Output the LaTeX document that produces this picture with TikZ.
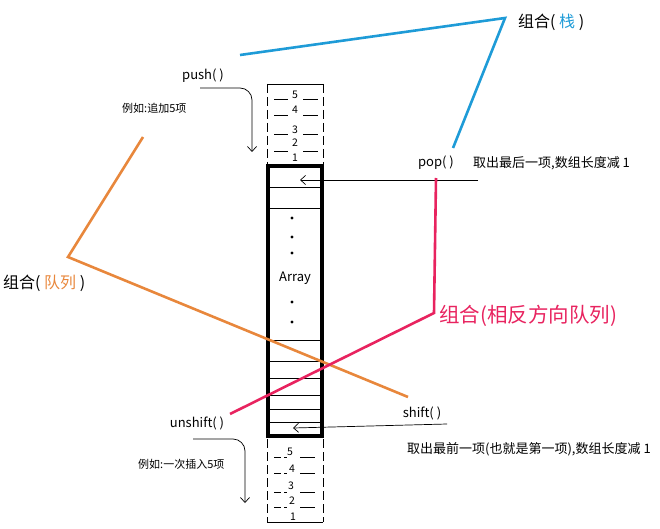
\documentclass[tikz,border=0pt]{standalone}
\usepackage{fontspec}
\setmainfont{Noto Sans CJK SC}
\usetikzlibrary{arrows.meta}
\definecolor{stackblue}{RGB}{30,155,215}
\definecolor{queueorange}{RGB}{232,135,60}
\definecolor{revpink}{RGB}{232,35,95}
\begin{document}
\begin{tikzpicture}[x=1pt,y=-1pt,
  lbl/.style={inner sep=0pt, font=\fontsize{13}{15}\selectfont},
  smalllbl/.style={inner sep=0pt, font=\fontsize{11}{13}\selectfont},
  numlbl/.style={inner sep=0pt, font=\fontsize{10.5}{12}\selectfont},
  combolbl/.style={inner sep=0pt, anchor=west, font=\fontsize{16}{18}\selectfont},
  thinline/.style={line width=0.7pt},
  arrline/.style={line width=0.7pt, -{Straight Barb[length=5pt,width=9pt]}},
  dashline/.style={line width=0.7pt, dash pattern=on 7pt off 3pt},
  sideline/.style={line width=0.7pt, dash pattern=on 9pt off 4pt},
  colline/.style={line width=2.6pt}
]
\useasboundingbox (0,0) rectangle (660,529);

% ---- pop / shift arrows (behind the array border)
\coordinate (popend) at (478,180);
\coordinate (poptip) at (300,180);
\draw[arrline] (popend) -- (poptip);
\coordinate (shiftend) at (447,424);
\coordinate (shifttip) at (293,428);
\draw[arrline] (shiftend) -- (shifttip);

% ---- array
\node[draw, line width=4.5pt, minimum width=54pt, minimum height=270pt, inner sep=0pt] (array) at (295,301) {};
\foreach \yy in {187,208,340,361,378,395,409,422}
  \draw[thinline] (268,\yy) -- (322,\yy);
\node[lbl] (arraytxt) at (295,278) {Array};
\foreach \yy in {218,237,253,302,322}
  \fill (292,\yy) circle (1.6pt);

% ---- top dashed box (push)
\draw[thinline] (267,84) -- (323,84);
\draw[sideline] (267,84) -- (267,164);
\draw[sideline] (323,84) -- (323,164);
\node[numlbl] (t5) at (295,95) {5};
\node[numlbl] (t4) at (295,110) {4};
\node[numlbl] (t3) at (295,130) {3};
\node[numlbl] (t2) at (295,143) {2};
\node[numlbl] (t1) at (295,158) {1};
\foreach \yy in {99,115,134,151}{
  \draw[thinline] (274,\yy) -- (288,\yy);
  \draw[thinline] (303,\yy) -- (318,\yy);
}

% ---- bottom dashed box (unshift)
\draw[thinline] (267,522) -- (323,522);
\draw[sideline] (267,439) -- (267,522);
\draw[sideline] (323,439) -- (323,522);
\node[numlbl] (b5) at (290,452) {5};
\node[numlbl] (b4) at (292,469) {4};
\node[numlbl] (b3) at (291,486) {3};
\node[numlbl] (b2) at (292,501) {2};
\node[numlbl] (b1) at (293,517) {1};
\foreach \yy in {457,473,492,507}{
  \draw[dashline] (274,\yy) -- (287,\yy);
  \draw[thinline] (300,\yy) -- (315,\yy);
}

% ---- labels
\node[lbl] (push) at (203,76) {push( )};
\node[smalllbl, anchor=west] (pushex) at (122,108) {例如:追加5项};
\node[lbl] (pop) at (436,163) {pop( )};
\node[lbl, anchor=west] (popdesc) at (473,163) {取出最后一项,数组长度减 1};
\node[lbl] (unshift) at (197,423) {unshift( )};
\node[smalllbl, anchor=west] (unshiftex) at (138,464) {例如:一次插入5项};
\node[lbl] (shift) at (422,413) {shift( )};
\node[lbl, anchor=west] (shiftdesc) at (407,449) {取出最前一项(也就是第一项),数组长度减 1};

% ---- push / unshift arrows
\coordinate (pushstart) at (200,88);
\coordinate (pushcorner) at (252,88);
\coordinate (pushtip) at (252,152);
\draw[arrline, rounded corners=12pt] (pushstart) -- (pushcorner) -- (pushtip);
\coordinate (unshstart) at (193,439);
\coordinate (unshcorner) at (245,439);
\coordinate (unshtip) at (245,503);
\draw[arrline, rounded corners=12pt] (unshstart) -- (unshcorner) -- (unshtip);

% ---- combination lines
\coordinate (bl1) at (240,55);
\coordinate (bl2) at (505,18);
\coordinate (bl3) at (453,148);
\draw[colline, stackblue, line join=miter] (bl1) -- (bl2) -- (bl3);
\node[combolbl] (stacklbl) at (518,22) {组合( \textcolor{stackblue}{栈} )};

\coordinate (or1) at (143,137);
\coordinate (or2) at (68,257);
\coordinate (or3) at (408,397);
\draw[colline, queueorange] (or1) -- (or2) -- (or3);
\node[combolbl] (queuelbl) at (3,283) {组合( \textcolor{queueorange}{队列} )};

\coordinate (pk1) at (436,178);
\coordinate (pk2) at (434,313);
\coordinate (pk3) at (230,414);
\draw[colline, revpink] (pk1) -- (pk2) -- (pk3);
\node[combolbl, text=revpink, font=\fontsize{20.5}{23}\selectfont] (revlbl) at (439,316) {组合(相反方向队列)};
\end{tikzpicture}
\end{document}
